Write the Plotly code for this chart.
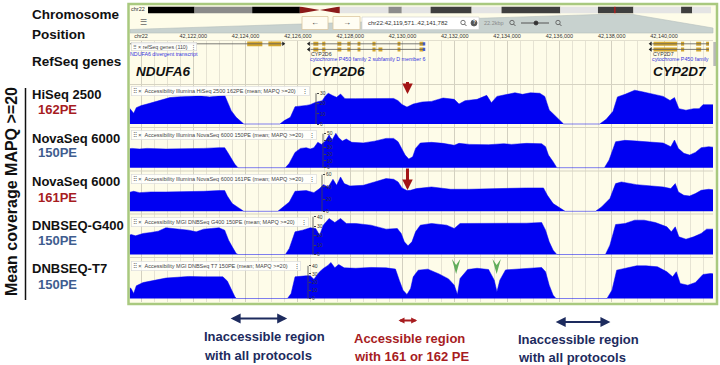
import plotly.graph_objects as go

W, H = 720, 365
def PX(x): return x / W
def PY(y): return 1 - y / H

# ====================== data ======================
CHROM = "chr22"
CHROM_LEN_MB = 50.8
REGION_START = 42119571
REGION_END = 42141782
KB_ORIGIN = 42120000          # all kb positions below are offsets from chr22:42,120,000

# chr22 ideogram (Mb)
band_start_mb = [0.0, 4.2, 9.4, 13.7, 17.3, 21.7, 22.9, 25.5, 29.2, 31.9, 37.2, 40.6, 43.8, 48.1, 49.1]
band_end_mb   = [4.2, 9.4, 13.7, 17.3, 21.7, 22.9, 25.5, 29.2, 31.9, 37.2, 40.6, 43.8, 48.1, 49.1, 50.8]
band_stain    = ["gpos100", "gvar", "gpos100", "acen", "gneg", "gpos50", "gneg", "gpos75",
                 "gneg", "gpos75", "gneg", "gpos75", "gneg", "gpos75", "gneg"]

# RefSeq genes (kb offsets)
ndufa6_span = [-0.45, 5.44]
ndufa6_exons = [[4.06, 4.64], [4.87, 5.36]]
cyp2d6_span = [6.48, 10.84]
cyp2d6_exons_t1 = [[6.59, 6.78], [6.93, 7.05], [7.51, 7.66], [7.89, 8.01], [8.28, 8.39],
                   [8.85, 8.97], [9.81, 9.92], [10.65, 10.80]]
cyp2d6_exons_t2 = [[6.59, 6.78], [6.93, 7.05], [7.51, 7.66], [7.89, 8.01], [8.28, 8.39],
                   [8.85, 8.97], [9.08, 9.23], [9.81, 9.92], [10.65, 10.80]]
cyp2d6_utr = [10.80, 10.87]
cyp2d7_span = [19.55, 21.72]
cyp2d7_exons = [[19.60, 20.50], [20.65, 20.77], [21.23, 21.42], [21.61, 21.72]]

# mean coverage (MAPQ>=20) profiles: (kb offset, coverage)
hiseq_162 = [(-0.50, 17.5), (-0.38, 14.0), (-0.28, 10.4), (-0.18, 16.0), (0.01, 18.0), (0.23, 19.5),
             (0.52, 21.5), (0.81, 24.0), (1.10, 25.8), (1.39, 26.5), (1.82, 27.2), (2.26, 27.5),
             (2.62, 26.5), (2.98, 27.0), (3.20, 28.0), (3.30, 22.1), (3.45, 13.0), (3.64, 6.5),
             (3.85, 1.6), (3.93, 0),
             (5.31, 0), (5.48, 3.3), (5.71, 6.5), (5.89, 16.9), (6.32, 18.2), (6.47, 18.9), (6.68, 21.2),
             (6.93, 22.8), (7.05, 27.4), (7.16, 30.0), (7.34, 27.7), (7.48, 26.1), (7.63, 29.3),
             (7.80, 24.8), (8.21, 24.8), (8.93, 24.8), (9.66, 25.0), (9.83, 22.8), (9.98, 19.0),
             (10.17, 16.5), (10.41, 19.5), (10.75, 21.5), (11.11, 22.1), (11.55, 25.4), (11.98, 24.1),
             (12.16, 19.5), (12.39, 22.8), (12.85, 24.1), (13.22, 28.0), (13.40, 20.8), (13.61, 27.0),
             (14.01, 29.0), (14.30, 30.5), (14.59, 29.0), (14.89, 30.5), (15.25, 30.0), (15.44, 27.0),
             (15.61, 13.7), (15.83, 8.1), (16.05, 3.3), (16.16, 0),
             (17.54, 0), (17.79, 4.6), (18.05, 12.4), (18.22, 26.5), (18.51, 29.0), (18.88, 33.0),
             (19.17, 31.5), (19.60, 29.3), (19.97, 27.0), (20.23, 23.0), (20.40, 25.8), (20.57, 15.0),
             (20.84, 13.5), (21.13, 15.0), (21.34, 15.0), (21.49, 18.9), (22.07, 18.9)]

novaseq_150 = [(-0.50, 27.5), (-0.35, 28.4), (-0.06, 27.5), (0.23, 28.4), (0.95, 27.5), (1.68, 27.5),
               (2.40, 28.4), (2.98, 29.4), (3.20, 29.4), (3.30, 23.5), (3.45, 13.7), (3.59, 4.9), (3.71, 0),
               (5.52, 0), (5.67, 6.4), (5.89, 22.5), (6.10, 28.4), (6.32, 29.4), (6.47, 27.5), (6.61, 29.4),
               (6.76, 37.3), (6.90, 34.3), (7.05, 39.2), (7.19, 48.0), (7.31, 40.7), (7.45, 50.5),
               (7.56, 44.1), (7.70, 39.2), (7.85, 42.2), (8.06, 37.3), (8.50, 36.5), (8.93, 39.0),
               (9.37, 43.1), (9.66, 43.1), (9.83, 38.2), (9.98, 28.4), (10.10, 18.6), (10.24, 12.7),
               (10.39, 16.2), (10.50, 28.4), (10.68, 36.3), (11.11, 37.3), (11.55, 35.8), (11.98, 33.0),
               (12.16, 35.8), (12.56, 34.3), (13.29, 33.8), (13.87, 35.3), (14.16, 34.3), (14.74, 35.8),
               (15.32, 35.3), (15.47, 30.9), (15.58, 18.6), (15.76, 8.8), (15.90, 0),
               (17.72, 0), (17.90, 11.3), (18.15, 38.2), (18.51, 40.2), (18.95, 39.2), (19.53, 37.3),
               (19.97, 36.3), (20.26, 30.9), (20.40, 40.7), (20.55, 28.4), (20.76, 21.1), (20.98, 18.6),
               (21.20, 22.5), (21.42, 29.4), (21.71, 30.9), (22.07, 29.4)]

novaseq_161 = [(-0.50, 30.6), (-0.28, 32.8), (-0.06, 30.6), (0.37, 31.7), (0.95, 31.7), (1.68, 31.7),
               (2.40, 32.8), (2.98, 33.9), (3.20, 33.9), (3.30, 25.1), (3.49, 12.6), (3.74, 5.5), (3.93, 0),
               (5.23, 0), (5.45, 7.1), (5.67, 15.3), (5.89, 32.8), (6.32, 33.9), (6.61, 30.6), (6.83, 37.2),
               (6.97, 43.7), (7.16, 39.9), (7.34, 52.5), (7.48, 42.6), (7.63, 56.3), (7.77, 45.4),
               (7.99, 41.5), (8.50, 42.6), (8.93, 48.1), (9.37, 53.6), (9.66, 52.5), (9.83, 48.1),
               (9.98, 38.3), (10.17, 33.9), (10.31, 34.4), (10.53, 37.2), (11.11, 39.9), (11.84, 36.1),
               (12.56, 36.1), (13.29, 37.2), (14.01, 38.3), (14.74, 38.3), (15.39, 38.3), (15.54, 26.2),
               (15.76, 12.6), (16.05, 4.4), (16.22, 0),
               (17.38, 0), (17.61, 7.1), (17.93, 20.8), (18.15, 45.4), (18.37, 48.1), (18.95, 43.7),
               (19.53, 41.5), (19.97, 39.9), (20.26, 37.2), (20.43, 45.4), (20.55, 31.7), (20.76, 26.2),
               (20.98, 25.1), (21.20, 29.0), (21.42, 34.4), (21.71, 36.1), (22.07, 34.4)]

dnbseq_g400 = [(-0.50, 19.8), (-0.38, 21.2), (-0.21, 19.8), (0.08, 22.3), (0.37, 23.3), (0.66, 24.7),
               (0.95, 28.3), (1.39, 26.9), (1.82, 25.8), (2.11, 24.0), (2.40, 26.9), (2.69, 27.6),
               (2.98, 28.3), (3.20, 25.8), (3.35, 15.2), (3.49, 8.1), (3.64, 1.1), (3.71, 0),
               (5.52, 0), (5.67, 6.4), (5.89, 24.0), (6.18, 25.8), (6.47, 28.3), (6.68, 27.6), (6.83, 20.5),
               (6.97, 31.1), (7.19, 38.2), (7.41, 33.9), (7.63, 38.2), (7.85, 32.9), (8.21, 32.9),
               (8.79, 31.1), (9.37, 26.9), (9.80, 27.6), (9.95, 22.3), (10.07, 13.4), (10.21, 9.2),
               (10.36, 13.4), (10.50, 24.0), (10.68, 31.1), (11.11, 32.9), (11.69, 31.1), (11.98, 27.6),
               (12.20, 32.9), (12.56, 32.9), (13.29, 32.9), (14.01, 33.2), (14.74, 33.2), (15.32, 33.9),
               (15.47, 25.8), (15.61, 13.4), (15.76, 4.6), (15.90, 0),
               (17.76, 0), (17.93, 9.9), (18.15, 31.8), (18.51, 32.9), (18.88, 36.4), (19.24, 36.4),
               (19.67, 33.9), (20.11, 29.3), (20.28, 24.0), (20.43, 29.3), (20.57, 18.7), (20.84, 16.3),
               (21.13, 18.7), (21.42, 22.3), (21.63, 26.9), (22.07, 26.9)]

dnbseq_t7 = [(-0.50, 14.3), (-0.38, 12.2), (-0.28, 6.1), (-0.18, 15.5), (0.08, 19.5), (0.37, 21.5),
             (0.95, 25.0), (1.39, 26.0), (1.82, 27.0), (2.40, 26.5), (2.84, 27.0), (3.13, 26.5),
             (3.30, 21.5), (3.45, 10.2), (3.59, 2.0), (3.65, 0),
             (5.60, 0), (5.74, 6.1), (5.89, 26.5), (6.32, 27.8), (6.47, 27.8), (6.61, 23.7), (6.83, 32.7),
             (6.97, 36.7), (7.16, 40.8), (7.26, 44.1), (7.41, 37.6), (7.56, 41.6), (7.77, 37.5),
             (8.21, 37.0), (8.79, 38.0), (9.37, 37.5), (9.73, 36.0), (9.88, 22.0), (10.02, 10.2),
             (10.17, 4.9), (10.31, 12.2), (10.41, 26.5), (10.60, 34.7), (10.97, 35.9), (11.40, 30.0),
             (11.76, 24.0), (11.98, 16.3), (12.10, 4.9), (12.20, 24.5), (12.49, 35.5), (12.85, 37.0),
             (13.29, 35.5), (13.51, 22.4), (13.61, 8.2), (13.72, 22.4), (13.94, 35.0), (14.30, 36.0),
             (14.89, 37.5), (15.32, 38.0), (15.47, 32.7), (15.61, 16.3), (15.76, 4.1), (15.87, 0),
             (17.82, 0), (18.01, 10.2), (18.19, 34.7), (18.51, 36.7), (18.95, 40.0), (19.31, 40.0),
             (19.75, 38.8), (20.11, 32.7), (20.33, 26.5), (20.47, 32.7), (20.62, 18.4), (20.91, 16.3),
             (21.20, 19.6), (21.49, 29.4), (21.78, 30.6), (22.07, 29.4)]

track_titles = ["Accessibility Illumina HiSeq 2500 162PE (mean; MAPQ &gt;=20)",
                "Accessibility Illumina NovaSeq 6000 150PE (mean; MAPQ &gt;=20)",
                "Accessibility Illumina NovaSeq 6000 161PE (mean; MAPQ &gt;=20)",
                "Accessibility MGI DNBSeq G400 150PE (mean; MAPQ &gt;=20)",
                "Accessibility MGI DNBSeq T7 150PE (mean; MAPQ &gt;=20)"]
track_platform = ["HiSeq 2500", "NovaSeq 6000", "NovaSeq 6000", "DNBSEQ-G400", "DNBSEQ-T7"]
track_protocol = ["162PE", "150PE", "161PE", "150PE", "150PE"]
track_ticks = [[0, 10, 20, 30], [0, 10, 20, 30, 40, 50], [0, 20, 40, 60],
               [0, 10, 20, 30, 40], [0, 10, 20, 30, 40]]
profiles = [hiseq_162, novaseq_150, novaseq_161, dnbseq_g400, dnbseq_t7]

red_arrow_kb = 10.19
red_arrow_tracks = [0, 2]
green_arrow_kb = [12.05, 13.60]
inaccessible_1_kb = [3.37, 5.59]
accessible_kb = [9.79, 10.56]
inaccessible_2_kb = [15.80, 17.95]

# ====================== styling / layout ======================
SANS = "Liberation Sans, Arial, sans-serif"
CREAM = "#fefce9"
GREEN_BORDER = "#a9c97f"
GRID_MAJOR = "#d3d0c0"
GRID_MINOR = "#e6e3d3"
COV = "#0000f2"
EXON = "#d4a62e"
RED = "#a71c1f"
SLATE = "#3f5d8f"
NAVY = "#1d2b5e"
DARKRED = "#a31515"

PX_PER_KB = 26.15
X_LEFT, X_RIGHT = 129.8, 713.0
VIEW_END = REGION_START + (X_RIGHT - X_LEFT) / PX_PER_KB * 1000
XDOM = [PX(X_LEFT), PX(X_RIGHT)]
XRANGE = [REGION_START, VIEW_END]

# track geometry: top, bottom, baseline (px), px per coverage unit, y-axis x (px), header y (px)
TRACK_GEOM = [(84.5, 127.5, 124.0, 1.023, 316, 90.5),
              (127.5, 171.0, 167.7, 0.68, 323, 134.5),
              (171.0, 214.0, 211.3, 0.61, 322, 178.5),
              (214.0, 257.5, 254.5, 0.943, 313, 222.0),
              (257.5, 302.0, 298.5, 0.817, 308, 265.5)]
LABEL_Y = [(94, 109), (138, 152), (181, 197), (225, 241), (268, 284)]

def bp(kb):
    return KB_ORIGIN + kb * 1000

fig = go.Figure()
shapes, ann = [], []

def text(t, x, y, size=13, color="#111", family=SANS, xanchor="left", **kw):
    ann.append(dict(text=t, x=PX(x), y=PY(y), xref="paper", yref="paper", xanchor=xanchor,
                    yanchor="middle", showarrow=False, font=dict(size=size, color=color, family=family), **kw))

def prect(x0, y0, x1, y1, fill=None, line=None, lw=0, layer="above"):
    shapes.append(dict(type="rect", xref="paper", yref="paper", x0=PX(x0), x1=PX(x1), y0=PY(y1), y1=PY(y0),
                       fillcolor=fill or "rgba(0,0,0,0)", line=dict(color=line or "rgba(0,0,0,0)", width=lw),
                       layer=layer))

def pline(x0, y0, x1, y1, color, w=1, layer="above"):
    shapes.append(dict(type="line", xref="paper", yref="paper", x0=PX(x0), x1=PX(x1), y0=PY(y0), y1=PY(y1),
                       line=dict(color=color, width=w), layer=layer))

def pcircle(cx, cy, r, fill=None, line="#555", lw=0.8):
    shapes.append(dict(type="circle", xref="paper", yref="paper", x0=PX(cx - r), x1=PX(cx + r),
                       y0=PY(cy + r), y1=PY(cy - r), fillcolor=fill or "rgba(0,0,0,0)",
                       line=dict(color=line, width=lw), layer="above"))

def magnifier(cx, cy):
    pcircle(cx, cy, 2.2)
    pline(cx + 1.6, cy + 1.6, cx + 3.4, cy + 3.4, "#555", 1)

# ---------- panel background ----------
prect(128.5, 4, 717, 304, fill=CREAM, layer="below")

# ---------- ideogram ----------
stain_color = {"gpos100": "#000000", "gvar": "#8a8a8a", "gpos75": "#3f3f3f",
               "gpos50": "#8c8c8c", "gneg": "#e4e4e4", "acen": "rgba(0,0,0,0)"}
fig.add_trace(go.Bar(orientation="h", y=[0] * len(band_start_mb),
                     x=[e - s for s, e in zip(band_start_mb, band_end_mb)], base=band_start_mb,
                     width=1, marker=dict(color=[stain_color[s] for s in band_stain], line_width=0),
                     xaxis="x7", yaxis="y7", hoverinfo="skip", showlegend=False))
for s, e, st in zip(band_start_mb, band_end_mb, band_stain):
    if st == "acen":
        m = (s + e) / 2
        shapes.append(dict(type="path", xref="x7", yref="y7",
                           path=f"M {s},-0.5 L {s},0.5 L {m},0 Z M {e},-0.5 L {e},0.5 L {m},0 Z",
                           fillcolor="#8b1a1a", line=dict(width=0), layer="above"))
reg_mb = (REGION_START + REGION_END) / 2 / 1e6
shapes.append(dict(type="line", xref="x7", yref="y7", x0=reg_mb, x1=reg_mb, y0=-0.5, y1=0.5,
                   line=dict(color="#e01010", width=1), layer="above"))
text(CHROM, 128.5, 9.5, size=5.5, color="#333")

# zoom wedge
shapes.append(dict(type="path", xref="paper", yref="paper",
                   path=f"M {PX(130)},{PY(29.5)} L {PX(598)},{PY(14.5)} L {PX(633)},{PY(14.5)} "
                        f"L {PX(713)},{PY(28)} L {PX(713)},{PY(33)} L {PX(130)},{PY(33)} Z",
                   fillcolor="#c8d2cf", line=dict(color="#b5c0bd", width=0.6), layer="above"))

# navigation controls
text("☰", 143, 23, size=8, color="#666", xanchor="center")
prect(302, 16.5, 328, 29.5, fill="#fffdf2", line="#dcc7a0", lw=0.8)
prect(333, 16.5, 360, 29.5, fill="#fffdf2", line="#dcc7a0", lw=0.8)
text("←", 315, 23, size=8, color="#333", xanchor="center")
text("→", 346.5, 23, size=8, color="#333", xanchor="center")
prect(362, 17, 479, 29.5, fill="#ffffff", line="#cfcfcf", lw=0.6)
text(f"{CHROM}:{REGION_START:,}..{REGION_END:,}", 366, 23.3, size=6, color="#333")
magnifier(463, 22.5)
pcircle(474, 23, 3, fill="#555", line="#555")
text("<b>?</b>", 474, 23, size=4.5, color="white", xanchor="center")
text(f"{(REGION_END - REGION_START) / 1000:.1f}kbp", 482, 23.3, size=5.5, color="#8a8a8a")
magnifier(512, 22.5)
pline(521, 23, 549, 23, "#555", 1)
pcircle(536, 23, 2, fill="#333", line="#333")
magnifier(558, 22.5)

# ruler underline and separators
pline(130, 40.5, 713, 40.5, "#dad7c6", 0.8)
for g in TRACK_GEOM:
    pline(130, g[0], 713, g[0], "#d6d3c2", 1)

# ---------- gene track ----------
ROW_A, ROW_B = 43.8, 49.4
def gene_line(span, row):
    fig.add_trace(go.Scatter(x=[bp(span[0]), bp(span[1])], y=[row, row], mode="lines",
                             line=dict(color="#5a5a5a", width=0.8), xaxis="x", yaxis="y",
                             hoverinfo="skip", showlegend=False))
gene_line(ndufa6_span, ROW_A)
gene_line(cyp2d6_span, ROW_A)
gene_line(cyp2d6_span, ROW_B)
gene_line(cyp2d7_span, ROW_A)
gene_line(cyp2d7_span, ROW_B)

ex_rows, ex_start, ex_len, ex_h = [], [], [], []
for exons, row, h in [(ndufa6_exons, ROW_A, 4.8), (cyp2d6_exons_t1, ROW_A, 4.0),
                      (cyp2d6_exons_t2, ROW_B, 4.0), (cyp2d7_exons, ROW_A, 4.0), (cyp2d7_exons, ROW_B, 4.0)]:
    for a, b in exons:
        ex_rows.append(row); ex_start.append(bp(a)); ex_len.append((b - a) * 1000); ex_h.append(h)
fig.add_trace(go.Bar(orientation="h", y=ex_rows, x=ex_len, base=ex_start, width=ex_h,
                     marker=dict(color=EXON, line_width=0), xaxis="x", yaxis="y",
                     hoverinfo="skip", showlegend=False))
fig.add_trace(go.Bar(orientation="h", y=[ROW_A, ROW_B], x=[(cyp2d6_utr[1] - cyp2d6_utr[0]) * 1000] * 2,
                     base=[bp(cyp2d6_utr[0])] * 2, width=[3.2, 3.2],
                     marker=dict(color="#3f5fe0", line_width=0), xaxis="x", yaxis="y",
                     hoverinfo="skip", showlegend=False))
fig.add_trace(go.Scatter(x=[bp(ndufa6_span[1])], y=[ROW_A], mode="markers",
                         marker=dict(symbol="triangle-right", size=4, color="#222"),
                         xaxis="x", yaxis="y", hoverinfo="skip", showlegend=False))
fig.add_trace(go.Scatter(x=[bp(cyp2d6_span[0]) - 60] * 2 + [bp(cyp2d7_span[0]) - 60] * 2,
                         y=[ROW_A, ROW_B, ROW_A, ROW_B], mode="markers",
                         marker=dict(symbol="triangle-left", size=4, color="#222"),
                         xaxis="x", yaxis="y", hoverinfo="skip", showlegend=False))

text("NDUFA6 divergent transcript", 128, 53.5, size=5.3, color="#3434e0")
text("CYP2D6", 308.5, 53.8, size=5.3, color="#333")
text("cytochrome P450 family 2 subfamily D member 6", 308, 59.5, size=5.3, color="#3434e0")
text("CYP2D7", 650.5, 53.8, size=5.3, color="#333")
text("cytochrome P450 family", 650, 59.5, size=5.3, color="#3434e0")
for name, x in [("NDUFA6", 134), ("CYP2D6", 309.5), ("CYP2D7", 650.5)]:
    text(f"<b><i>{name}</i></b>", x, 72, size=13.5, color="#111")
ann.append(dict(text="⠿ × refSeq genes (110)  ⋮", x=PX(130.5), y=PY(46.5), xref="paper", yref="paper",
                xanchor="left", yanchor="middle", showarrow=False,
                font=dict(size=5.3, color="#444", family=SANS), bgcolor="rgba(255,255,255,0.85)",
                bordercolor="#d2d2d2", borderwidth=0.6, borderpad=1))
prect(713.3, 42, 716.3, 66, fill="#b9b9b9")

# ---------- coverage tracks ----------
for i, (prof, g) in enumerate(zip(profiles, TRACK_GEOM)):
    k = i + 2
    top, bot, base, ppu, axx, hy = g
    fig.add_trace(go.Scatter(x=[bp(p[0]) for p in prof], y=[p[1] for p in prof], mode="lines",
                             fill="tozeroy", fillcolor=COV, line=dict(color=COV, width=0.5),
                             xaxis=f"x{k}", yaxis=f"y{k}", hoverinfo="skip", showlegend=False))
    shapes.append(dict(type="line", xref="paper", yref=f"y{k}", x0=PX(axx), x1=PX(axx),
                       y0=0, y1=track_ticks[i][-1], line=dict(color="#444", width=0.8), layer="above"))
    ann.append(dict(text=f"⠿ ×  {track_titles[i]}    ⋮", x=PX(130.5), y=PY(hy), xref="paper", yref="paper",
                    xanchor="left", yanchor="middle", showarrow=False,
                    font=dict(size=5.5, color="#444", family=SANS), bgcolor="rgba(255,255,255,0.82)",
                    bordercolor="#d6d6d6", borderwidth=0.6, borderpad=1.2))
    ly, sy = LABEL_Y[i]
    text(f"<b>{track_platform[i]}</b>", 29.5, ly, size=13)
    text(f"<b>{track_protocol[i]}</b>", 35.5, sy, size=13,
         color=RED if track_protocol[i] in ("161PE", "162PE") else SLATE)

# red arrows marking the 161/162PE-accessible position
for ti in red_arrow_tracks:
    top = TRACK_GEOM[ti][0]
    tip = top + (9.5 if ti == 0 else 19)
    ann.append(dict(text="", x=bp(red_arrow_kb), y=PY(tip), xref="x", yref="paper", ax=0,
                    ay=-(tip - top + 4), axref="pixel", ayref="pixel", showarrow=True, arrowhead=2,
                    arrowsize=0.7, arrowwidth=3, arrowcolor=DARKRED))
# green chevrons in T7
hw = 4.2 / PX_PER_KB * 1000
for kb in green_arrow_kb:
    x = bp(kb)
    shapes.append(dict(type="path", xref="x", yref="paper",
                       path=f"M {x - hw},{PY(259)} L {x},{PY(274)} L {x + hw},{PY(259)} L {x},{PY(265)} Z",
                       fillcolor="#62ad5b", line=dict(width=0), layer="above"))

# panel border
prect(128.5, 4, 717, 304, line=GREEN_BORDER, lw=2.5)

# ---------- left labels ----------
text("<b>Chromosome</b>", 29.5, 15, size=13.5)
text("<b>Position</b>", 29.5, 34, size=13.5)
text("<b>RefSeq genes</b>", 29.5, 62, size=13.5)
ann.append(dict(text="<b>Mean coverage MAPQ &gt;=20</b>", x=PX(12), y=PY(192), xref="paper", yref="paper",
                xanchor="center", yanchor="middle", showarrow=False, textangle=-90,
                font=dict(size=16, color="#111", family=SANS)))
pline(25.5, 88, 25.5, 300, "#111", 1.5)

# ---------- bottom annotations ----------
for span, y, color, size in [(inaccessible_1_kb, 318.5, NAVY, 1.0), (accessible_kb, 320.5, RED, 0.6),
                             (inaccessible_2_kb, 322, NAVY, 1.0)]:
    ann.append(dict(text="", x=bp(span[1]), y=PY(y), xref="x", yref="paper", ax=bp(span[0]), axref="x",
                    ay=0, ayref="pixel", showarrow=True, arrowside="end+start", arrowhead=2,
                    arrowsize=size, arrowwidth=2, arrowcolor=color))
BOT = 13
text("<b>Inaccessible region</b>", 202, 336.5, size=BOT, color=NAVY)
text("<b>with all protocols</b>", 202, 355, size=BOT, color=NAVY)
text("<b>Accessible region</b>", 352, 338, size=BOT, color=RED)
text("<b>with 161 or 162 PE</b>", 352, 356, size=BOT, color=RED)
text("<b>Inaccessible region</b>", 516, 339.5, size=BOT, color=NAVY)
text("<b>with all protocols</b>", 516, 357, size=BOT, color=NAVY)

# ---------- axes ----------
xcommon = dict(domain=XDOM, range=XRANGE, showgrid=True, gridcolor=GRID_MAJOR, gridwidth=0.8,
               tick0=KB_ORIGIN, dtick=2000, zeroline=False, showline=False, ticks="", fixedrange=True,
               minor=dict(tick0=KB_ORIGIN, dtick=500, showgrid=True, gridcolor=GRID_MINOR, gridwidth=0.6))
layout = dict(
    width=W, height=H, autosize=False, margin=dict(l=0, r=0, t=0, b=0),
    paper_bgcolor="white", plot_bgcolor="rgba(0,0,0,0)", barmode="overlay", showlegend=False,
    font=dict(family=SANS),
    xaxis=dict(**xcommon, anchor="y", side="top", showticklabels=True, tickformat=",d",
               labelalias={f"{KB_ORIGIN:,}": CHROM},
               tickfont=dict(size=5.5, color="#333")),
    yaxis=dict(domain=[PY(84.5), PY(40.5)], range=[84.5, 40.5], visible=False, anchor="x", fixedrange=True),
    xaxis7=dict(domain=[PX(148), PX(711)], range=[0, CHROM_LEN_MB], visible=False, anchor="y7"),
    yaxis7=dict(domain=[PY(13.5), PY(6.5)], range=[-0.5, 0.5], visible=False, anchor="x7"),
)
for i, g in enumerate(TRACK_GEOM):
    k = i + 2
    top, bot, base, ppu, axx, hy = g
    layout[f"xaxis{k}"] = dict(**xcommon, anchor=f"y{k}", matches="x", showticklabels=False)
    layout[f"yaxis{k}"] = dict(domain=[PY(bot), PY(top)], range=[-(bot - base) / ppu, (base - top) / ppu],
                               anchor="free", position=PX(axx), side="right", tickvals=track_ticks[i],
                               ticks="outside", ticklen=2, tickwidth=0.6, tickcolor="#444",
                               tickfont=dict(size=5, color="#333"), showgrid=False, zeroline=False,
                               showline=False, fixedrange=True)
fig.update_layout(**layout)
fig.update_layout(shapes=shapes, annotations=ann)
fig.write_html("out.html", config={"displayModeBar": False})
